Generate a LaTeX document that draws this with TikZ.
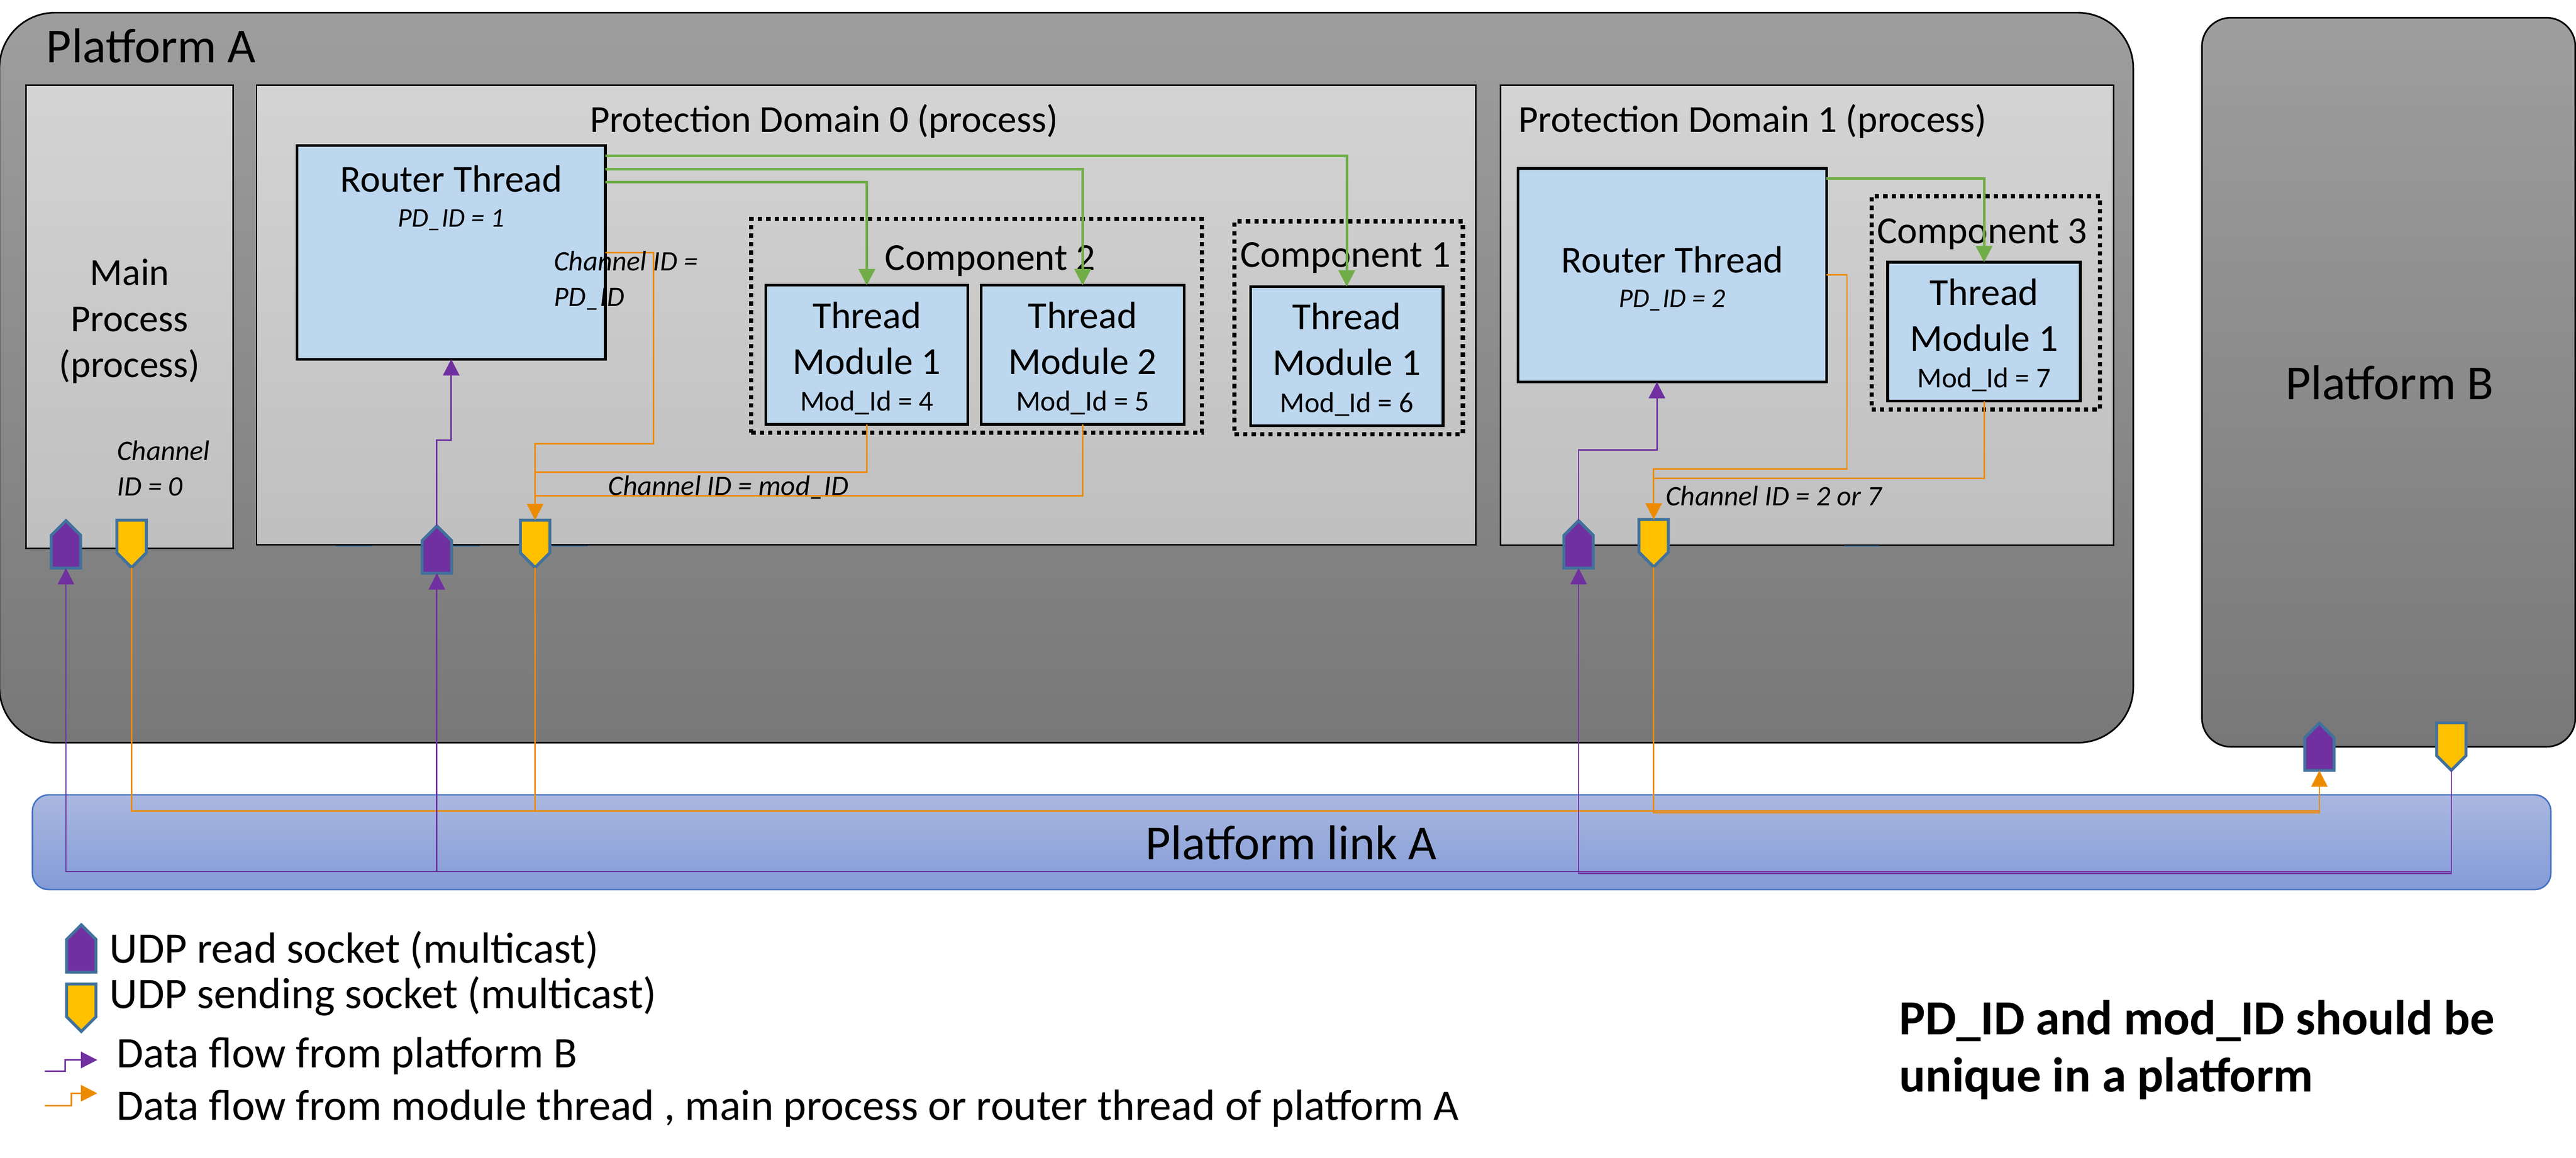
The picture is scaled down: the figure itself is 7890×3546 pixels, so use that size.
\documentclass[tikz,border=0pt]{standalone}
\usepackage{fontspec}
\setmainfont{Carlito}
\usetikzlibrary{arrows.meta,shapes.symbols}
\definecolor{bluefill}{HTML}{BDD7EE}
\definecolor{sockline}{HTML}{41719C}
\definecolor{sockyellow}{HTML}{FFC000}
\definecolor{linkline}{HTML}{4472C4}
\definecolor{flowpurple}{HTML}{7030A0}
\definecolor{floworange}{HTML}{ED8B00}
\definecolor{flowgreen}{HTML}{70AD47}
\tikzset{
  platbox/.style={draw=black,line width=0.05cm,top color=black!38,bottom color=black!53,rounded corners=#1,inner sep=0,outer sep=0},
  linkbox/.style={draw=linkline,line width=0.045cm,top color={rgb,255:red,170;green,184;blue,224},bottom color={rgb,255:red,131;green,155;blue,215},rounded corners=0.5cm,inner sep=0,outer sep=0},
  domainbox/.style={draw=black,line width=0.045cm,top color=black!17,bottom color=black!25,inner sep=0,outer sep=0},
  threadbox/.style={draw=black,line width=0.085cm,fill=bluefill,inner sep=0,outer sep=0,align=center,font=\fontsize{33.2}{40}\selectfont},
  compbox/.style={draw=black,line width=0.13cm,dash pattern=on 0.13cm off 0.13cm,inner sep=0,outer sep=0},
  rdsock/.style={shape=signal,signal to=north,signal from=nowhere,signal pointer angle=90,draw=sockline,line width=0.09cm,fill=flowpurple,minimum width=0.9cm,minimum height=1cm,inner sep=0,outer sep=0,anchor=north,yshift=-0.06cm},
  sdsock/.style={shape=signal,signal to=south,signal from=nowhere,signal pointer angle=90,draw=sockline,line width=0.09cm,fill=sockyellow,minimum width=0.9cm,minimum height=1cm,inner sep=0,outer sep=0,anchor=north,yshift=-0.045cm},
  purpleflow/.style={draw=flowpurple,line width=0.045cm},
  orangeflow/.style={draw=floworange,line width=0.045cm},
  greenflow/.style={draw=flowgreen,line width=0.08cm},
  tip/.style={-{Triangle[length=0.5cm,width=0.5cm]}},
  bigtext/.style={font=\fontsize{42.6}{50}\selectfont,inner sep=0},
  midtext/.style={font=\fontsize{33.2}{40}\selectfont,inner sep=0,align=center},
  idtext/.style={font=\fontsize{24.6}{31}\selectfont\itshape,inner sep=0,align=left},
  legtext/.style={font=\fontsize{38}{46}\selectfont,inner sep=0,anchor=west}
}
\newcommand{\threadmod}[2]{\rule{0pt}{29pt}Thread\\Module #1\\[-8pt]{\fontsize{25}{31}\selectfont Mod\_Id = #2}}
\begin{document}
\begin{tikzpicture}[x=0.01cm,y=-0.01cm]
\useasboundingbox (0,0) rectangle (7890,3546);
\node[platbox=1.7cm,minimum width=65.32cm,minimum height=22.35cm] (platA) at (3266,1157) {};
\node[platbox=0.88cm,minimum width=11.43cm,minimum height=22.32cm] (platB) at (7316,1171) {};
\node[linkbox,minimum width=77.09cm,minimum height=2.9cm] (linkA) at (3956,2580) {};
\node[bigtext] (platAtxt) at (463,141) {Platform A};
\node[bigtext] (platBtxt) at (7319,1172) {Platform B};
\node[bigtext] (linkAtxt) at (3955,2581) {Platform link A};
\node[domainbox,minimum width=6.35cm,minimum height=14.18cm] (mainp) at (397,971) {};
\node[domainbox,minimum width=37.32cm,minimum height=14.07cm] (pd0) at (2653,965) {};
\node[domainbox,minimum width=18.77cm,minimum height=14.08cm] (pd1) at (5535,966) {};
\foreach \xa/\xb in {1029/1139,1388/1469,1690/1801,5647/5756}
  \draw[sockline,line width=0.03cm] (\xa,1672) -- (\xb,1672);
\node[midtext] (mainptxt) at (397,984) {Main\\Process\\(process)};
\node[midtext] (pd0txt) at (2524,372) {Protection Domain 0 (process)};
\node[midtext] (pd1txt) at (5368,372) {Protection Domain 1 (process)};
\node[compbox,minimum width=13.79cm,minimum height=6.55cm] (comp2) at (2991,998) {};
\node[compbox,minimum width=6.99cm,minimum height=6.52cm] (comp1) at (4131,1004) {};
\node[compbox,minimum width=6.99cm,minimum height=6.53cm] (comp3) at (6082,928) {};
\node[midtext] (comp2txt) at (3033,799) {Component 2};
\node[midtext] (comp1txt) at (4121,789) {Component 1};
\node[midtext] (comp3txt) at (6071,717) {Component 3};
\node[threadbox,minimum width=9.44cm,minimum height=6.54cm] (rt0) at (1382,773) {};
\node[threadbox,minimum width=9.44cm,minimum height=6.54cm] (rt1) at (5122,843) {};
\node[midtext] (rt0txt) at (1382,548) {Router Thread};
\node[idtext,font=\fontsize{23.5}{31}\selectfont\itshape] (rt0id) at (1382,674) {PD\_ID = 1};
\node[midtext] (rt1txt) at (5122,795) {Router Thread};
\node[idtext,font=\fontsize{23.5}{31}\selectfont\itshape] (rt1id) at (5122,920) {PD\_ID = 2};
\node[threadbox,minimum width=6.19cm,minimum height=4.26cm] (m4) at (2655,1087) {\threadmod{1}{4}};
\node[threadbox,minimum width=6.21cm,minimum height=4.26cm] (m5) at (3316,1087) {\threadmod{2}{5}};
\node[threadbox,minimum width=5.89cm,minimum height=4.26cm] (m6) at (4125,1091) {\threadmod{1}{6}};
\node[threadbox,minimum width=5.9cm,minimum height=4.25cm] (m7) at (6077,1016) {\threadmod{1}{7}};
\node[rdsock] (rdM) at (202,1589) {};
\node[sdsock] (sdM) at (403,1589) {};
\node[rdsock] (rd0) at (1338,1605) {};
\node[sdsock] (sd0) at (1639,1589) {};
\node[rdsock] (rd1) at (4835,1589) {};
\node[sdsock] (sd1) at (5065,1587) {};
\node[rdsock] (rdB) at (7104,2209) {};
\node[sdsock] (sdB) at (7508,2210) {};
\coordinate (jct0a) at (2001,1360);
\coordinate (jct04) at (1639,1446);
\coordinate (jct05) at (1639,1519);
\coordinate (jct1a) at (5657,1437);
\coordinate (jct17) at (5065,1465);
\coordinate (pp0) at (1382,1349);
\coordinate (pp1) at (5075,1379);
\coordinate (busO1) at (7104,2484);
\coordinate (busO2) at (7104,2490);
\coordinate (busP1) at (202,2670);
\coordinate (busP2) at (4835,2676);
\draw[greenflow,tip] (rt0.north east) ++(0,31) -| (m6.north);
\draw[greenflow,tip] (rt0.north east) ++(0,72) -| (m5.north);
\draw[greenflow,tip] (rt0.north east) ++(0,112) -| (m4.north);
\draw[greenflow,tip] (rt1.north east) ++(0,31) -| (m7.north);
\draw[orangeflow,tip] (rt0.north east) ++(0,328) -| (jct0a) -| (sd0.north);
\draw[orangeflow] (m4.south) |- (jct04);
\draw[orangeflow] (m5.south) |- (jct05);
\draw[orangeflow,tip] (rt1.north east) ++(0,326) -| (jct1a) -| (sd1.north);
\draw[orangeflow] (m7.south) |- (jct17);
\draw[orangeflow,tip] (sdM.south) |- (busO1) -- (rdB.south);
\draw[orangeflow] (sd0.south) -- (sd0.south |- busO1);
\draw[orangeflow] (sd1.south) |- (busO2) -- (busO1);
\draw[purpleflow,tip] (sdB.south) |- (busP1) -- (rdM.south);
\draw[purpleflow,tip] (rd0.south |- busP1) -- (rd0.south);
\draw[purpleflow,tip] (sdB.south) |- (busP2) -- (rd1.south);
\draw[purpleflow,tip] (rd0.north) |- (pp0) -- (rt0.south);
\draw[purpleflow,tip] (rd1.north) |- (pp1) -- (pp1 |- rt1.south);
\node[idtext,anchor=west] (chM) at (358,1435) {Channel\\ID = 0};
\node[idtext,anchor=west] (ch0) at (1696,860) {Channel ID =\\PD\_ID};
\node[idtext] (chmod) at (2231,1493) {Channel ID = mod\_ID};
\node[idtext] (ch1) at (5433,1519) {Channel ID = 2 or 7};
\node[rdsock] (lgrd) at (249,2827) {};
\node[sdsock] (lgsd) at (249,3010) {};
\node[legtext] (lgrdtxt) at (335,2910) {UDP read socket (multicast)};
\node[legtext] (lgsdtxt) at (335,3052) {UDP sending socket (multicast)};
\coordinate (lgp0) at (137,3281);
\coordinate (lgp1) at (298,3247);
\coordinate (lgo0) at (137,3387);
\coordinate (lgo1) at (298,3349);
\draw[purpleflow,tip] (lgp0) -- ++(62,0) |- (lgp1);
\draw[orangeflow,tip] (lgo0) -- ++(81,0) |- (lgo1);
\node[legtext] (lgptxt) at (357,3234) {Data flow from platform B};
\node[legtext] (lgotxt) at (357,3395) {Data flow from module thread , main process or router thread of platform A};
\node[font=\fontsize{42.7}{50}\selectfont\bfseries,inner sep=0,align=left,anchor=west] (note) at (5817,3216) {PD\_ID and mod\_ID should be\\unique in a platform};
\end{tikzpicture}
\end{document}
